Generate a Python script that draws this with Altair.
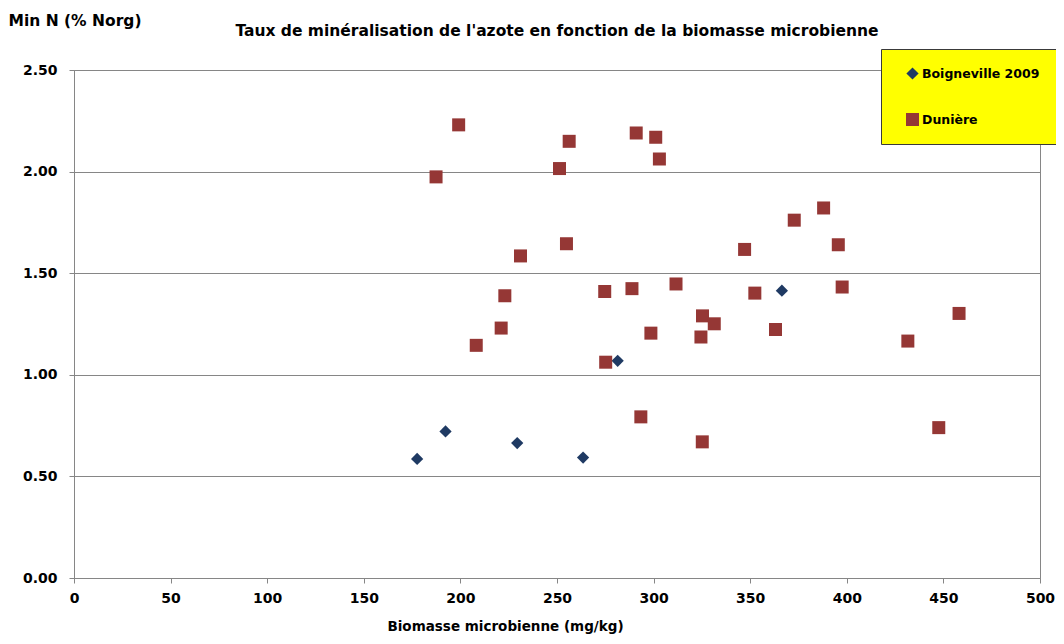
import altair as alt
import pandas as pd

series = ["Boigneville 2009", "Dunière"]

boi_x = [177.6, 192.3, 229.4, 263.5, 281.4, 366.4]
boi_y = [0.586, 0.721, 0.664, 0.593, 1.069, 1.414]

dun_x = [187.4, 199.1, 208.2, 221.1, 223.0, 231.1, 251.3, 254.9, 256.3, 274.7,
         275.2, 288.8, 291.0, 293.4, 298.6, 301.1, 303.0, 311.6, 324.5, 325.3,
         325.2, 331.4, 347.1, 352.4, 363.1, 372.8, 388.0, 395.6, 397.6, 431.6,
         447.6, 458.1]
dun_y = [1.974, 2.230, 1.145, 1.230, 1.389, 1.585, 2.015, 1.645, 2.149, 1.410,
         1.062, 1.424, 2.190, 0.793, 1.205, 2.169, 2.062, 1.447, 1.186, 1.290,
         0.670, 1.251, 1.617, 1.402, 1.223, 1.761, 1.821, 1.640, 1.432, 1.166,
         0.740, 1.302]

x_ticks = [0, 50, 100, 150, 200, 250, 300, 350, 400, 450, 500]
y_ticks = [0.0, 0.5, 1.0, 1.5, 2.0, 2.5]

df = pd.DataFrame({
    "biomasse": boi_x + dun_x,
    "minN": boi_y + dun_y,
    "serie": [series[0]] * len(boi_x) + [series[1]] * len(dun_x),
})

FONT = "DejaVu Sans"
GRAY = "#868686"

legend = alt.Legend(
    title=None, orient="none", legendX=807, legendY=-21,
    fillColor="#FFFF00", strokeColor="#3a3a3a", padding=18,
    rowPadding=33, symbolOffset=7, labelFont=FONT, labelFontSize=12.5,
    labelFontWeight="bold", labelColor="#000000", symbolSize=100,
    symbolStrokeWidth=0, labelOffset=3,
    labelExpr="datum.label + '\u00a0\u00a0\u00a0\u00a0\u00a0'",
)

chart = alt.Chart(df).mark_point(filled=True, opacity=1, strokeWidth=0).encode(
    x=alt.X("biomasse:Q",
            scale=alt.Scale(domain=[0, 500], nice=False, zero=True),
            axis=alt.Axis(values=x_ticks, format="d", grid=False,
                          labelFlush=False,
                          title="Biomasse microbienne (mg/kg)",
                          titleX=431, titleY=55, titleBaseline="bottom",
                          titleAlign="center", titleFontSize=13.5,
                          labelPadding=8)),
    y=alt.Y("minN:Q",
            scale=alt.Scale(domain=[0, 2.5], nice=False),
            axis=alt.Axis(values=y_ticks, format=".2f",
                          labelFlush=False,
                          title="Min N (% Norg)", titleAngle=0,
                          titleX=-66, titleY=-50, titleAlign="left",
                          titleBaseline="middle", titleFontSize=15.5,
                          labelPadding=12)),
    color=alt.Color("serie:N",
                    scale=alt.Scale(domain=series, range=["#1F3A63", "#953735"]),
                    legend=legend),
    shape=alt.Shape("serie:N",
                    scale=alt.Scale(domain=series, range=["diamond", "square"]),
                    legend=legend),
    size=alt.Size("serie:N",
                  scale=alt.Scale(domain=series, range=[150, 169]),
                  legend=None),
).properties(
    width=966,
    height=508,
    background="white",
    title=alt.TitleParams(
        "Taux de minéralisation de l'azote en fonction de la biomasse microbienne",
        font=FONT, fontSize=15.5, fontWeight="bold", color="#000000",
        anchor="middle", frame="group", baseline="middle", offset=0, dy=33,
    ),
    autosize=alt.AutoSizeParams(type="none"),
    padding={"left": 66, "top": 62, "right": 16, "bottom": 56},
).configure_view(
    stroke=GRAY, strokeWidth=1,
).configure_axis(
    labelFont=FONT, labelFontSize=14, labelFontWeight="bold", labelColor="#000000",
    titleFont=FONT, titleFontWeight="bold", titleColor="#000000",
    domainColor=GRAY, tickColor=GRAY, tickSize=5, gridColor=GRAY,
    gridWidth=1, domainWidth=1,
)

chart.save("out.html", embed_options={"renderer": "svg", "actions": False})
